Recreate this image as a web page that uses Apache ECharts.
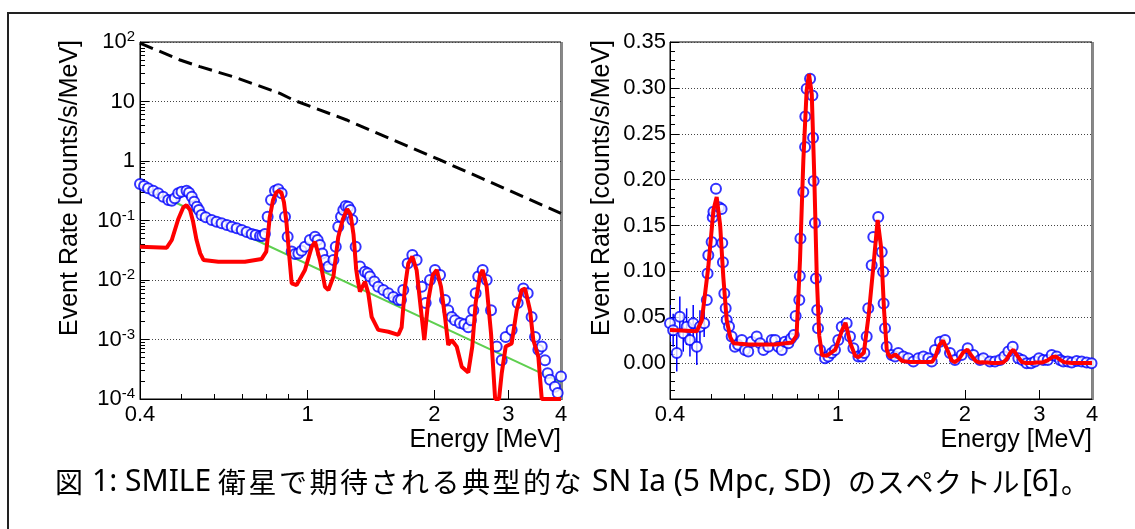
<!DOCTYPE html>
<html>
<head>
<meta charset="utf-8">
<title>SN Ia spectrum</title>
<script src="https://cdn.jsdelivr.net/npm/echarts@6.0.0/dist/echarts.min.js"></script>
<style>
  html, body { margin: 0; padding: 0; background: #fff; }
  #main { width: 1135px; height: 529px; }
</style>
</head>
<body>
<div id="main"></div>
<script>
'use strict';

// 模型曲线 (红线，两图共用)  energy [MeV] / rate
var redE = [0.400, 0.463, 0.476, 0.493, 0.507, 0.516, 0.526, 0.535, 0.545, 0.556, 0.566, 0.614, 0.710, 0.778,
  0.798, 0.813, 0.828, 0.843, 0.854, 0.867, 0.879, 0.891, 0.903, 0.917, 0.942, 0.986, 1.023, 1.042, 1.070,
  1.100, 1.121, 1.152, 1.183, 1.213, 1.242, 1.265, 1.286, 1.305, 1.316, 1.332, 1.369, 1.394, 1.420, 1.472,
  1.556, 1.643, 1.673, 1.704, 1.735, 1.774, 1.816, 1.860, 1.894, 1.936, 1.983, 2.027, 2.075, 2.121, 2.159,
  2.200, 2.261, 2.324, 2.409, 2.462, 2.508, 2.568, 2.606, 2.664, 2.728, 2.790, 2.850, 2.892, 2.956, 3.054,
  3.139, 3.226, 3.285, 3.376, 3.438, 3.534, 3.600, 4.000];
var redV = [0.0363, 0.0349, 0.047, 0.105, 0.167, 0.181, 0.150, 0.094, 0.047, 0.028, 0.0217, 0.0203, 0.0203, 0.0226,
  0.030, 0.112, 0.221, 0.297, 0.315, 0.293, 0.203, 0.094, 0.030, 0.0088, 0.0082, 0.0147, 0.036, 0.044, 0.0217,
  0.0077, 0.0068, 0.0114, 0.053, 0.105, 0.156, 0.127, 0.058, 0.015, 0.010, 0.0064, 0.0094, 0.006, 0.0024, 0.00145,
  0.00135, 0.0012, 0.0016, 0.0077, 0.019, 0.0247, 0.0147, 0.0031, 0.00098, 0.0046, 0.0121, 0.0147, 0.0077, 0.0024, 0.00081,
  0.00098, 0.00076, 0.00035, 0.00028, 0.00076, 0.0041, 0.0121, 0.0147, 0.0077, 0.00127, 0.0001, 0.0001, 0.00027, 0.00076, 0.00086,
  0.0031, 0.0068, 0.0072, 0.0031, 0.00098, 0.00051, 0.0001, 0.0001];

// 连续谱 (绿线)
var greenE = [0.4, 4.0];
var greenV = [0.38, 0.00019];

// 背景 (黑色虚线)
var bgE = [0.4, 0.498, 0.555, 0.666, 0.86, 0.925, 1.239, 2.064, 4.0];
var bgV = [96, 49.8, 38.5, 26.1, 13.7, 10.6, 4.89, 1.04, 0.132];

// 左图 观测点
var leftE = [0.400, 0.409, 0.418, 0.430, 0.442, 0.454, 0.467, 0.476, 0.484, 0.493, 0.502, 0.516, 0.523, 0.531,
  0.538, 0.546, 0.552, 0.560, 0.573, 0.592, 0.608, 0.625, 0.643, 0.661, 0.679, 0.698, 0.717, 0.737, 0.753,
  0.771, 0.781, 0.792, 0.804, 0.819, 0.837, 0.852, 0.868, 0.884, 0.897, 0.917, 0.934, 0.951, 0.968, 0.986,
  1.013, 1.042, 1.057, 1.070, 1.084, 1.100, 1.121, 1.152, 1.167, 1.183, 1.201, 1.216, 1.232, 1.250, 1.264,
  1.278, 1.301, 1.332, 1.369, 1.390, 1.407, 1.441, 1.472, 1.514, 1.556, 1.599, 1.643, 1.667, 1.688, 1.729,
  1.774, 1.816, 1.867, 1.908, 1.954, 2.008, 2.064, 2.121, 2.159, 2.200, 2.240, 2.302, 2.357, 2.409, 2.444,
  2.476, 2.508, 2.544, 2.606, 2.664, 2.728, 2.814, 2.892, 2.956, 3.054, 3.156, 3.255, 3.334, 3.406, 3.470,
  3.534, 3.600, 3.665, 3.719, 3.767, 3.870, 3.928, 4.000];
var leftV = [0.41, 0.38, 0.348, 0.317, 0.286, 0.251, 0.221, 0.215, 0.236, 0.286, 0.305, 0.317, 0.293, 0.251,
  0.207, 0.171, 0.150, 0.124, 0.113, 0.102, 0.0955, 0.0897, 0.084, 0.0787, 0.074, 0.0692, 0.064, 0.0593, 0.057,
  0.0548, 0.0548, 0.0593, 0.116, 0.221, 0.317, 0.334, 0.286, 0.116, 0.0535, 0.030, 0.0274, 0.028, 0.031, 0.0363,
  0.047, 0.0535, 0.047, 0.0387, 0.028, 0.0217, 0.0168, 0.0217, 0.0363, 0.0787, 0.116, 0.150, 0.175, 0.171, 0.150,
  0.102, 0.0363, 0.0168, 0.0138, 0.013, 0.0114, 0.0094, 0.0077, 0.0068, 0.0060, 0.0052, 0.0046, 0.0046, 0.0068, 0.019,
  0.0263, 0.0217, 0.0077, 0.0041, 0.010, 0.0147, 0.0121, 0.0046, 0.0031, 0.0024, 0.0021, 0.0019, 0.0018, 0.0016, 0.0021,
  0.0031, 0.006, 0.0114, 0.0147, 0.010, 0.0031, 0.00076, 0.00045, 0.0011, 0.00145, 0.0041, 0.0072, 0.0060, 0.0024, 0.0011,
  0.00067, 0.00076, 0.00045, 0.00027, 0.00021, 0.00016, 0.000126, 0.00024];

// 右图 观测点 (扣除连续谱)
var rightE = [0.400, 0.407, 0.415, 0.422, 0.430, 0.438, 0.446, 0.454, 0.463, 0.471, 0.482, 0.489, 0.491, 0.493,
  0.502, 0.505, 0.507, 0.514, 0.523, 0.530, 0.532, 0.534, 0.538, 0.542, 0.545, 0.552, 0.560, 0.570, 0.580,
  0.592, 0.602, 0.613, 0.624, 0.642, 0.654, 0.666, 0.684, 0.697, 0.710, 0.722, 0.736, 0.749, 0.763, 0.774,
  0.786, 0.794, 0.810, 0.812, 0.815, 0.828, 0.836, 0.837, 0.843, 0.859, 0.870, 0.873, 0.876, 0.882, 0.887,
  0.893, 0.897, 0.907, 0.932, 0.949, 0.966, 0.984, 1.002, 1.021, 1.049, 1.068, 1.088, 1.118, 1.139, 1.155,
  1.170, 1.180, 1.202, 1.213, 1.246, 1.270, 1.280, 1.283, 1.293, 1.305, 1.341, 1.366, 1.390, 1.429, 1.468,
  1.509, 1.551, 1.594, 1.638, 1.668, 1.698, 1.745, 1.794, 1.843, 1.894, 1.964, 2.030, 2.094, 2.171, 2.211,
  2.292, 2.356, 2.421, 2.479, 2.534, 2.595, 2.676, 2.735, 2.801, 2.868, 2.931, 2.996, 3.067, 3.141, 3.211,
  3.300, 3.360, 3.420, 3.504, 3.581, 3.679, 3.782, 3.886, 3.990];
var rightV = [0.0435, 0.036, 0.011, 0.0507, 0.0326, 0.0398, 0.0253, 0.0435, 0.018, 0.0398, 0.0435, 0.0688, 0.0978, 0.1177,
  0.132, 0.159, 0.165, 0.190, 0.170, 0.168, 0.131, 0.110, 0.076, 0.060, 0.047, 0.040, 0.029, 0.018, 0.020,
  0.0253, 0.0145, 0.0127, 0.0235, 0.029, 0.0217, 0.0145, 0.018, 0.0253, 0.0253, 0.018, 0.0145, 0.0235, 0.0217, 0.027,
  0.0308, 0.0514, 0.0688, 0.0949, 0.136, 0.1866, 0.2355, 0.2688, 0.299, 0.310, 0.2916, 0.2457, 0.1985, 0.1528, 0.0924,
  0.058, 0.038, 0.0145, 0.0054, 0.0072, 0.011, 0.0145, 0.0253, 0.0398, 0.0435, 0.029, 0.0163, 0.0072, 0.0072, 0.011,
  0.029, 0.060, 0.1068, 0.1376, 0.1594, 0.1213, 0.0996, 0.065, 0.038, 0.018, 0.009, 0.0072, 0.011, 0.0072, 0.0054,
  0.0018, 0.0054, 0.0072, 0.0054, 0.0018, 0.0145, 0.0235, 0.0253, 0.011, 0.0036, 0.009, 0.0163, 0.009, 0.0036, 0.0054,
  0.0018, 0.0018, 0.0036, 0.0072, 0.0127, 0.018, 0.0054, 0.0036, 0.0, 0.0, 0.0018, 0.0054, 0.0036, 0.0036, 0.009,
  0.0072, 0.0036, 0.0018, 0.0018, 0.0007, 0.0025, 0.0018, 0.0007, 0.0];
// 低能端误差棒 (前11个点)
var rightErr = [0.02, 0.018, 0.02, 0.022, 0.02, 0.02, 0.018, 0.02, 0.02, 0.018, 0.015];

// 刻度
var xLabels = [0.4, 1, 2, 3, 4];
var xMajor = [1, 2, 3];
var xMinor = [0.5, 0.6, 0.7, 0.8, 0.9];
var rightYLabels = [0, 0.05, 0.10, 0.15, 0.20, 0.25, 0.30, 0.35];

var FONT = 'Liberation Sans';
var LABEL_SIZE = 22;
var lg = function(v) { return Math.log10(v); };

var leftYMinor = [];
for (var d = -4; d < 2; d++) {
  for (var k = 2; k <= 9; k++) {
    leftYMinor.push(lg(k) + d);
  }
}
var rightYMinor = [];
for (var i = -3; i <= 34; i++) {
  if (i % 5 !== 0) rightYMinor.push(i / 100);
}

function pairs(xs, ys, logY) {
  var out = [];
  for (var n = 0; n < xs.length; n++) {
    out.push([lg(xs[n]), logY ? lg(ys[n]) : ys[n]]);
  }
  return out;
}

function xMain(grid) {
  return {
    type: 'value', gridIndex: grid, min: lg(0.4), max: lg(4), position: 'bottom',
    axisLine: { onZero: false, lineStyle: { color: '#000', width: 1 } },
    axisTick: { inside: true, length: 9, customValues: xMajor.map(lg), lineStyle: { color: '#000' } },
    axisLabel: {
      fontFamily: FONT, fontSize: LABEL_SIZE, color: '#000', margin: 5,
      customValues: xLabels.map(lg),
      formatter: function(v) { return String(Math.round(Math.pow(10, v) * 10) / 10); }
    },
    splitLine: { show: false }
  };
}
function xSub(grid) {
  return {
    type: 'value', gridIndex: grid, min: lg(0.4), max: lg(4), position: 'bottom',
    axisLine: { show: false, onZero: false },
    axisTick: { inside: true, length: 5, customValues: xMinor.map(lg), lineStyle: { color: '#000' } },
    axisLabel: { show: false },
    splitLine: { show: false }
  };
}

var supLabel = function(v) {
  if (v === 0) return '1';
  if (v === 1) return '10';
  return '{b|10}{s|' + v + '}';
};

var titleFont = '25px "Liberation Sans"';
var latinFont = '30px "Noto Sans"';
var jpFont = '28px "Noto Sans CJK JP"';
var capY = 482;

// 图注：日文逐字排 (原图两端对齐)
function jpRun(str, x0, step) {
  var els = [];
  for (var n = 0; n < str.length; n++) {
    els.push({ type: 'text', x: x0 + n * step, y: capY,
      style: { text: str.charAt(n), font: jpFont, fill: '#000', verticalAlign: 'middle' } });
  }
  return els;
}
function latinRun(str, x0) {
  return { type: 'text', x: x0, y: capY, style: { text: str, font: latinFont, fill: '#000', verticalAlign: 'middle' } };
}

var graphics = [
  { type: 'rect', shape: { x: 8, y: 13, width: 1140, height: 530 }, style: { fill: 'none', stroke: '#222', lineWidth: 2 }, z: 0 },
  { type: 'line', shape: { x1: 562, y1: 42, x2: 562, y2: 400 }, style: { stroke: '#888', lineWidth: 2 } },
  { type: 'line', shape: { x1: 1093, y1: 42, x2: 1093, y2: 400 }, style: { stroke: '#888', lineWidth: 2 } },
  { type: 'text', x: 70, y: 40, rotation: Math.PI / 2,
    style: { text: 'Event Rate [counts/s/MeV]', font: titleFont, fill: '#000', align: 'right', verticalAlign: 'middle' } },
  { type: 'text', x: 602, y: 40, rotation: Math.PI / 2,
    style: { text: 'Event Rate [counts/s/MeV]', font: titleFont, fill: '#000', align: 'right', verticalAlign: 'middle' } },
  { type: 'text', x: 561, y: 440,
    style: { text: 'Energy [MeV]', font: titleFont, fill: '#000', align: 'right', verticalAlign: 'middle' } },
  { type: 'text', x: 1092, y: 440,
    style: { text: 'Energy [MeV]', font: titleFont, fill: '#000', align: 'right', verticalAlign: 'middle' } },
  latinRun('1: SMILE', 92),
  latinRun('SN Ia (5 Mpc, SD)', 592),
  latinRun('[6]', 1022)
].concat(
  jpRun('図', 55, 30),
  jpRun('衛星で期待される典型的な', 218, 30.5),
  jpRun('のスペクトル', 848, 28.7),
  jpRun('。', 1061, 28)
);

var option = {
  animation: false,
  backgroundColor: '#fff',
  grid: [
    { left: 140, top: 42, width: 421, height: 357, show: true, borderColor: '#000', borderWidth: 1, outerBoundsMode: 'none' },
    { left: 670, top: 42, width: 422, height: 357, show: true, borderColor: '#000', borderWidth: 1, outerBoundsMode: 'none' }
  ],
  xAxis: [xMain(0), xSub(0), xMain(1), xSub(1)],
  yAxis: [
    {
      type: 'value', gridIndex: 0, min: -4, max: 2, interval: 1, position: 'left',
      axisLine: { onZero: false, lineStyle: { color: '#000' } },
      axisTick: { inside: true, length: 9, lineStyle: { color: '#000' } },
      axisLabel: {
        fontFamily: FONT, fontSize: LABEL_SIZE, color: '#000', margin: 5,
        formatter: supLabel,
        rich: {
          b: { fontFamily: FONT, fontSize: LABEL_SIZE, color: '#000' },
          s: { fontFamily: FONT, fontSize: 15, color: '#000', verticalAlign: 'top', padding: [0, 0, 10, 0] }
        }
      },
      splitLine: { lineStyle: { type: [1, 2], color: '#444', width: 1 } }
    },
    {
      type: 'value', gridIndex: 0, min: -4, max: 2, position: 'left',
      axisLine: { show: false, onZero: false },
      axisTick: { inside: true, length: 5, customValues: leftYMinor, lineStyle: { color: '#000' } },
      axisLabel: { show: false },
      splitLine: { show: false }
    },
    {
      type: 'value', gridIndex: 1, min: -0.039, max: 0.35, position: 'left',
      axisLine: { onZero: false, lineStyle: { color: '#000' } },
      axisTick: { inside: true, length: 9, customValues: rightYLabels, lineStyle: { color: '#000' } },
      axisLabel: {
        fontFamily: FONT, fontSize: LABEL_SIZE, color: '#000', margin: 4,
        customValues: rightYLabels,
        formatter: function(v) { return v.toFixed(2); }
      },
      splitLine: { lineStyle: { type: [1, 2], color: '#444', width: 1 } }
    },
    {
      type: 'value', gridIndex: 1, min: -0.039, max: 0.35, position: 'left',
      axisLine: { show: false, onZero: false },
      axisTick: { inside: true, length: 5, customValues: rightYMinor, lineStyle: { color: '#000' } },
      axisLabel: { show: false },
      splitLine: { show: false }
    }
  ],
  series: [
    {
      name: 'background', type: 'line', xAxisIndex: 0, yAxisIndex: 0,
      data: pairs(bgE, bgV, true), showSymbol: false,
      lineStyle: { color: '#000', width: 3, type: [14, 7] }, z: 2
    },
    {
      name: 'continuum', type: 'line', xAxisIndex: 0, yAxisIndex: 0,
      data: pairs(greenE, greenV, true), showSymbol: false,
      lineStyle: { color: '#5fcf4f', width: 2 }, z: 3
    },
    {
      name: 'data', type: 'scatter', xAxisIndex: 0, yAxisIndex: 0,
      data: pairs(leftE, leftV, true), symbol: 'emptyCircle', symbolSize: 10,
      itemStyle: { color: '#0000ff', borderColor: '#0000ff', borderWidth: 1 }, z: 4
    },
    {
      name: 'model', type: 'line', xAxisIndex: 0, yAxisIndex: 0,
      data: pairs(redE, redV, true), showSymbol: false, clip: true,
      lineStyle: { color: '#ff0000', width: 4 }, z: 5
    },
    {
      name: 'err', type: 'custom', xAxisIndex: 2, yAxisIndex: 2, clip: true,
      data: rightErr.map(function(e, n) { return [lg(rightE[n]), rightV[n], e]; }),
      renderItem: function(params, api) {
        var top = api.coord([api.value(0), api.value(1) + api.value(2)]);
        var bot = api.coord([api.value(0), api.value(1) - api.value(2)]);
        return {
          type: 'line',
          shape: { x1: top[0], y1: top[1], x2: bot[0], y2: bot[1] },
          style: { stroke: '#0000ff', lineWidth: 1.5 }
        };
      },
      z: 3
    },
    {
      name: 'data2', type: 'scatter', xAxisIndex: 2, yAxisIndex: 2,
      data: pairs(rightE, rightV, false), symbol: 'emptyCircle', symbolSize: 10,
      itemStyle: { color: '#0000ff', borderColor: '#0000ff', borderWidth: 1 }, z: 4
    },
    {
      name: 'model2', type: 'line', xAxisIndex: 2, yAxisIndex: 2,
      data: pairs(redE, redV, false), showSymbol: false, clip: true,
      lineStyle: { color: '#ff0000', width: 4 }, z: 5
    }
  ],
  graphic: graphics
};

var chart = echarts.init(document.getElementById('main'), null, { renderer: 'canvas' });
chart.setOption(option);
</script>
</body>
</html>
